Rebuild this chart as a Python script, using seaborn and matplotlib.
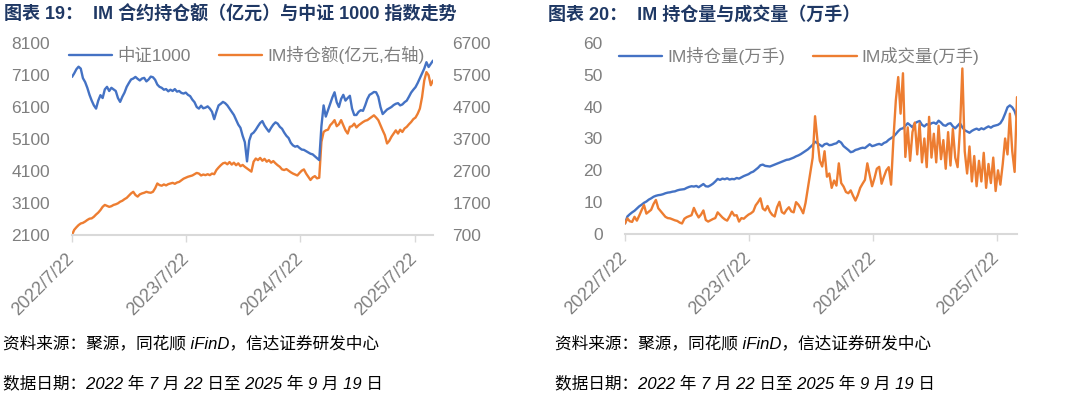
import matplotlib
matplotlib.use('Agg')
import matplotlib.pyplot as plt
import pandas as pd
import seaborn as sns

# weekly readings, 2022-07-22 .. 2025-09-19
start_date = '2022-07-22'

csi1000 = [
    7040, 7150, 7280, 7360, 7300, 7000, 6880, 6700, 6480, 6300,
    6150, 6050, 6300, 6470, 6380, 6650, 6730, 6600, 6700, 6650,
    6600, 6380, 6260, 6420, 6550, 6730, 6850, 6960, 6990, 7040,
    6980, 6930, 6990, 7010, 6900, 6960, 7050, 7030, 6950, 6800,
    6730, 6700, 6640, 6660, 6590, 6640, 6600, 6660, 6580, 6600,
    6540, 6520, 6550, 6480, 6440, 6330, 6250, 6100, 6050, 6140,
    6060, 6080, 6120, 6050, 5950, 5720, 5950, 6150, 6200, 6260,
    6220, 6150, 6050, 5950, 5850, 5700, 5550, 5450, 5200, 5000,
    4400, 5050, 5250, 5300, 5390, 5500, 5600, 5660, 5520, 5420,
    5330, 5450, 5550, 5620, 5580, 5480, 5420, 5300, 5200, 5130,
    4980, 4900, 4860, 4880, 4820, 4770, 4760, 4720, 4680, 4640,
    4620, 4560, 4500, 4440, 5500, 6150, 5800, 6000, 6200, 6400,
    6560, 6250, 6100, 6350, 6480, 6300, 6380, 6450, 6050, 5850,
    5850, 5950, 6000, 5980, 6150, 6350, 6480, 6520, 6570, 6560,
    6420, 6100, 5880, 5950, 6020, 6060, 6100, 6160, 6200, 6220,
    6150, 6180, 6250, 6300, 6420, 6550, 6640, 6720, 6850, 7000,
    7150, 7300, 7500, 7350, 7450, 7550,
]

im_amount = [
    700, 860, 940, 1010, 1060, 1080, 1120, 1170, 1210, 1220,
    1270, 1340, 1400, 1480, 1580, 1640, 1610, 1580, 1600, 1640,
    1660, 1690, 1740, 1770, 1820, 1860, 1930, 2000, 2050, 1950,
    1900, 1970, 2000, 2020, 2050, 2030, 2020, 2050, 2160, 2310,
    2260, 2240, 2280, 2250, 2290, 2310, 2330, 2300, 2340, 2360,
    2410, 2460, 2490, 2520, 2540, 2560, 2600, 2640, 2620, 2560,
    2590, 2570, 2600, 2570, 2620, 2600, 2730, 2810, 2880, 2940,
    2960, 2910, 2980, 2900, 2960, 2880, 2940, 2850, 2890, 2830,
    2780, 2730, 2680, 2990, 3090, 3040, 3110, 3020, 3080, 2990,
    3040, 2960, 3010, 2940, 2880, 2830, 2750, 2730, 2760, 2710,
    2660, 2620, 2590, 2560, 2640, 2710, 2750, 2620, 2520, 2420,
    2500, 2540, 2470, 2490, 3610, 3920, 3970, 3990, 4130, 4200,
    4290, 4100, 4160, 4290, 4130, 3970, 3870, 4080, 4100, 4180,
    4060, 4130, 4180, 4230, 4270, 4290, 4340, 4390, 4440, 4370,
    4290, 4130, 3970, 3820, 3560, 3640, 3770, 3870, 3970, 3870,
    3990, 3920, 4030, 4080, 4160, 4230, 4320, 4370, 4490, 4650,
    5010, 5530, 5790, 5690, 5380, 5530,
]

im_oi_lots = [
    3.3, 5.5, 6.2, 6.8, 7.3, 8.0, 8.7, 9.2, 9.8, 10.2,
    10.8, 11.2, 11.7, 12.0, 12.2, 12.3, 12.5, 12.8, 13.0, 13.1,
    13.3, 13.4, 13.7, 13.9, 14.0, 14.1, 14.5, 14.8, 15.0, 14.9,
    15.1, 14.7, 15.2, 15.7, 15.0, 14.9, 15.3, 15.8, 16.5, 17.3,
    17.0, 17.4, 17.2, 17.5, 17.1, 17.3, 17.2, 17.6, 17.4, 17.8,
    18.2, 18.5, 18.8, 19.3, 19.6, 20.2, 20.8, 21.6, 21.8, 21.4,
    21.3, 21.2, 21.5, 21.8, 22.1, 22.4, 22.7, 23.0, 23.3, 23.4,
    23.7, 24.0, 24.4, 24.7, 25.1, 25.6, 26.1, 26.6, 27.3, 28.0,
    29.0, 28.5, 28.0, 27.5, 28.2, 28.4, 27.9, 28.0, 28.3, 28.5,
    29.2, 28.7, 27.6, 27.0, 26.4, 25.7, 25.9, 26.4, 26.6, 26.9,
    27.1, 27.0, 27.6, 28.2, 27.6, 27.8, 28.1, 28.3, 28.0, 28.6,
    28.9, 29.6, 30.1, 30.6, 31.4, 32.3, 33.0, 33.2, 34.0, 34.8,
    34.2, 33.5, 34.8, 35.2, 35.5, 34.3, 33.8, 34.5, 34.2, 34.8,
    35.0, 34.6, 35.6, 35.0, 34.2, 34.0, 34.6, 34.8, 33.8, 33.2,
    34.0, 34.8, 33.5, 32.6, 32.2, 31.8, 32.4, 32.8, 33.1, 32.7,
    33.2, 32.9, 33.4, 33.8, 33.4, 33.9, 34.1, 34.3, 34.8, 36.0,
    37.8, 39.8, 40.4, 39.8, 38.6, 36.3,
]

im_volume = [
    3.3, 4.9, 4.0, 3.8, 5.4, 4.2, 5.8, 7.5, 9.1, 6.4,
    7.0, 7.6, 9.4, 10.7, 8.1, 7.2, 6.3, 5.4, 5.0, 4.9,
    4.6, 4.3, 4.1, 3.6, 3.3, 4.8, 5.3, 5.6, 5.9, 8.2,
    6.5, 5.2, 6.1, 7.4, 4.4, 3.9, 4.3, 4.7, 5.0, 6.8,
    6.0, 5.2, 4.6, 4.2, 5.5, 7.0, 5.8, 5.9, 3.9, 5.0,
    4.8, 5.5, 6.1, 6.5, 7.1, 9.0, 10.0, 11.2, 8.0, 7.4,
    8.8, 7.0, 6.0, 5.5, 8.4, 10.1, 6.9, 6.4, 7.6, 8.4,
    7.1, 6.8, 10.0, 9.2, 8.0, 6.5, 9.8, 14.6, 19.5, 24.0,
    37.0, 29.5, 23.0, 21.2, 26.0, 18.0, 19.0, 14.5, 16.8, 15.2,
    22.2, 16.0, 14.9, 13.2, 12.8, 13.7, 12.0, 10.5, 12.2, 14.5,
    15.8, 17.0, 22.2, 18.5, 15.0, 17.5, 20.5, 21.1, 15.8, 18.0,
    20.0, 21.0, 15.5, 30.0, 42.0, 49.3, 37.8, 50.5, 24.2, 33.5,
    23.0, 32.0, 35.0, 25.0, 34.7, 22.5, 30.0, 21.0, 36.8, 24.0,
    31.5, 22.5, 34.0, 23.5, 29.5, 20.5, 32.0, 21.5, 33.0, 24.0,
    21.0, 33.0, 52.0, 26.0, 19.0, 27.5, 16.5, 24.5, 15.0, 23.0,
    16.5, 25.5, 14.5, 22.0, 16.0, 24.0, 13.5, 20.0, 15.5, 22.0,
    30.0, 25.0, 37.8, 26.0, 19.5, 43.0,
]

tick_dates = ['2022-07-22', '2023-07-22', '2024-07-22', '2025-07-22']
tick_labels = ['2022/7/22', '2023/7/22', '2024/7/22', '2025/7/22']

BLUE = '#4472C4'
ORANGE = '#ED7D31'
GRAY = '#7f7f7f'
AXIS = '#d9d9d9'
NAVY = '#1f3864'

dates = pd.date_range(start_date, periods=len(csi1000), freq='7D')
df1 = pd.DataFrame({'date': dates, 'csi': csi1000, 'amt': im_amount})
df2 = pd.DataFrame({'date': dates, 'oi': im_oi_lots, 'vol': im_volume})

sns.set_style('white')
plt.rcParams['font.family'] = ['Liberation Sans', 'Noto Sans CJK SC']
plt.rcParams['axes.unicode_minus'] = False

fig = plt.figure(figsize=(10.8, 3.99), dpi=100)
W, H = 1080, 399
ax1 = fig.add_axes([72 / W, 1 - 235 / H, (433 - 72) / W, (235 - 43) / H])
ax1r = ax1.twinx()
ax2 = fig.add_axes([625 / W, 1 - 234 / H, (1017 - 625) / W, (234 - 43) / H])

lw = 1.7
sns.lineplot(data=df1, x='date', y='csi', ax=ax1, color=BLUE, lw=lw, label='中证1000', legend=False)
sns.lineplot(data=df1, x='date', y='amt', ax=ax1r, color=ORANGE, lw=lw, label='IM持仓额(亿元,右轴)', legend=False)
sns.lineplot(data=df2, x='date', y='oi', ax=ax2, color=BLUE, lw=lw, label='IM持仓量(万手)', legend=False)
sns.lineplot(data=df2, x='date', y='vol', ax=ax2, color=ORANGE, lw=lw, label='IM成交量(万手)', legend=False)

ax1r.set_zorder(ax1.get_zorder() - 1)
ax1.patch.set_visible(False)

x0, x1 = dates[0], dates[-1]
for ax in (ax1, ax1r, ax2):
    ax.set_xlim(x0, x1)
    ax.set_xlabel('')
    ax.set_ylabel('')
    for s in ax.spines.values():
        s.set_visible(False)

ax1.set_ylim(2100, 8100)
ax1.set_yticks(range(2100, 8101, 1000))
ax1r.set_ylim(700, 6700)
ax1r.set_yticks(range(700, 6701, 1000))
ax2.set_ylim(0, 60)
ax2.set_yticks(range(0, 61, 10))

for ax in (ax1, ax2):
    ax.spines['bottom'].set_visible(True)
    ax.spines['bottom'].set_color(AXIS)
    ax.spines['bottom'].set_linewidth(1.5)
    ax.set_xticks(pd.to_datetime(tick_dates))
    ax.set_xticklabels(tick_labels, rotation=45, ha='right', va='center', rotation_mode='anchor')
    ax.tick_params(axis='x', length=5, width=1, color=AXIS, labelcolor=GRAY, labelsize=13, pad=10, bottom=True)
    ax.tick_params(axis='y', length=0, labelcolor=GRAY, labelsize=12.5, pad=16)
    ax.grid(False)

ax1r.tick_params(axis='y', length=0, labelcolor=GRAY, labelsize=12.5, pad=14)
ax1r.tick_params(axis='x', bottom=False, labelbottom=False)
ax1r.grid(False)

# legends
h1, l1 = ax1.get_legend_handles_labels()
h2, l2 = ax1r.get_legend_handles_labels()
fig.legend(h1 + h2, l1 + l2, loc='center left', bbox_to_anchor=(69 / W, 1 - 55 / H),
           ncol=2, frameon=False, fontsize=12.5, handlelength=2.5, handletextpad=0.3,
           columnspacing=1.6, borderpad=0, borderaxespad=0, labelcolor=GRAY)
h3, l3 = ax2.get_legend_handles_labels()
fig.legend(h3, l3, loc='center left', bbox_to_anchor=(619 / W, 1 - 56 / H),
           ncol=2, frameon=False, fontsize=12.5, handlelength=2.5, handletextpad=0.3,
           columnspacing=1.6, borderpad=0, borderaxespad=0, labelcolor=GRAY)

# titles
fig.text(4 / W, 1 - 15 / H, '图表 19：  IM 合约持仓额（亿元）与中证 1000 指数走势',
         fontsize=13, fontweight='bold', color=NAVY, va='center')
fig.text(548 / W, 1 - 15 / H, '图表 20：  IM 持仓量与成交量（万手）',
         fontsize=13, fontweight='bold', color=NAVY, va='center')

# footers
for fx in (3 / W, 555 / W):
    fig.text(fx, 1 - 343 / H, '资料来源：聚源，同花顺 iFinD，信达证券研发中心',
             fontsize=12, style='italic', color='black', va='center')
    fig.text(fx, 1 - 383 / H, '数据日期：2022 年 7 月 22 日至 2025 年 9 月 19 日',
             fontsize=12, style='italic', color='black', va='center')

fig.savefig('out.png', dpi=100)
